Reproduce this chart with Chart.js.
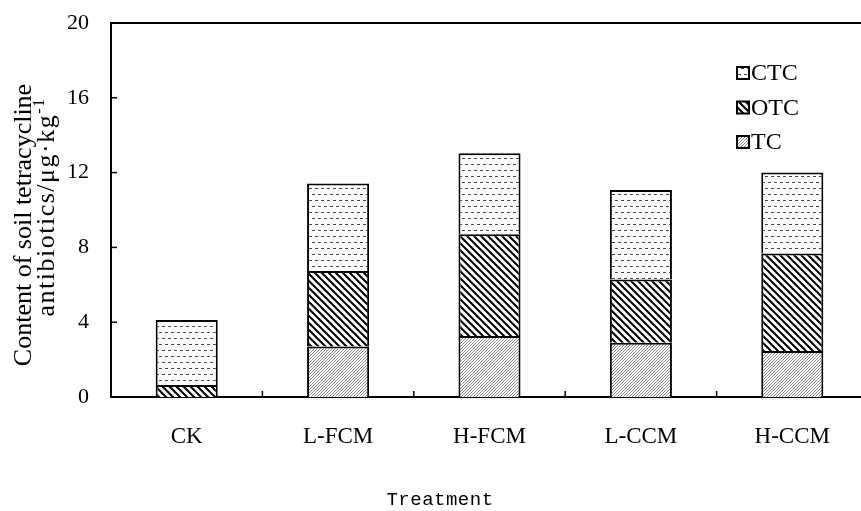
<!DOCTYPE html>
<html>
<head>
<meta charset="utf-8">
<script src="https://cdn.jsdelivr.net/npm/chart.js@4"></script>
<style>
  html, body { margin: 0; padding: 0; background: #fff; overflow: hidden; }
  #wrap { width: 875px; height: 511px; }
</style>
</head>
<body>
<div id="wrap"><canvas id="chart" width="875" height="511"></canvas></div>
<script>
"use strict";

// 처리구 / 항생제별 함량 (누적 막대의 각 구간 값)
const categories = ["CK", "L-FCM", "H-FCM", "L-CCM", "H-CCM"];
const tcValues = [0, 2.7, 3.26, 2.9, 2.46];
const otcValues = [0.64, 4.04, 5.44, 3.39, 5.22];
const ctcValues = [3.48, 4.68, 4.33, 4.78, 4.32];
const seriesNames = ["TC", "OTC", "CTC"];
const yTicks = [0, 4, 8, 12, 16, 20];
const yTitleLines = ["Content of soil tetracycline", "antibiotics/μg·kg", "-1"];
const xTitle = "Treatment";

const SERIF = "'Liberation Serif', 'Times New Roman', serif";

// ---- fill patterns ----
function makePattern(w, h, draw) {
  const c = document.createElement("canvas");
  c.width = w;
  c.height = h;
  const g = c.getContext("2d");
  g.fillStyle = "#fff";
  g.fillRect(0, 0, w, h);
  draw(g);
  return c.getContext("2d").createPattern(c, "repeat");
}

// CTC: 점선 가로줄 (엇갈림)
const ctcPattern = makePattern(6, 12, (g) => {
  g.fillStyle = "#4a4a4a";
  g.fillRect(0, 2, 3, 1);
  g.fillRect(3, 8, 3, 1);
});
// OTC: 굵은 역사선
const otcPattern = makePattern(7, 7, (g) => {
  g.strokeStyle = "#000";
  g.lineWidth = 2;
  g.beginPath();
  g.moveTo(-1, -1); g.lineTo(8, 8);
  g.moveTo(-8, -1); g.lineTo(1, 8);
  g.moveTo(6, -1); g.lineTo(15, 8);
  g.stroke();
});
// TC: 가는 회색 사선
const tcPattern = makePattern(3, 3, (g) => {
  g.strokeStyle = "#8a8a8a";
  g.lineWidth = 1;
  g.beginPath();
  g.moveTo(-1, 4); g.lineTo(4, -1);
  g.stroke();
});

const patterns = [tcPattern, otcPattern, ctcPattern];

function line(ctx, x1, y1, x2, y2) {
  ctx.beginPath();
  ctx.moveTo(x1, y1);
  ctx.lineTo(x2, y2);
  ctx.stroke();
}

// 위쪽 테두리, 안쪽 눈금, 범례, 축 제목
const framePlugin = {
  id: "frame",
  afterDraw(chart) {
    const { ctx, chartArea: a } = chart;
    const x = chart.scales.x;
    const y = chart.scales.y;
    ctx.save();
    ctx.strokeStyle = "#000";
    ctx.lineWidth = 2;
    line(ctx, a.left - 1, a.top, a.right, a.top);

    ctx.lineWidth = 1.5;
    yTicks.forEach((v) => {
      const py = y.getPixelForValue(v);
      line(ctx, a.left, py, a.left + 6, py);
    });
    for (let i = 1; i < categories.length; i++) {
      const px = (x.getPixelForValue(i - 1) + x.getPixelForValue(i)) / 2;
      line(ctx, px, a.bottom, px, a.bottom - 6);
    }

    // legend (역순)
    ctx.font = `24px ${SERIF}`;
    ctx.textBaseline = "middle";
    const ds = chart.data.datasets.slice().reverse();
    ds.forEach((d, i) => {
      const cy = 73 + i * 34.5;
      ctx.fillStyle = d.backgroundColor;
      ctx.fillRect(737, cy - 6, 12, 12);
      ctx.lineWidth = 2;
      ctx.strokeRect(737, cy - 6, 12, 12);
      ctx.fillStyle = "#000";
      ctx.textAlign = "left";
      ctx.fillText(d.label, 751, cy + 1);
    });

    // y title (2줄, 위첨자)
    ctx.save();
    ctx.rotate(-Math.PI / 2);
    ctx.fillStyle = "#000";
    ctx.textAlign = "center";
    ctx.textBaseline = "alphabetic";
    ctx.font = `26px ${SERIF}`;
    ctx.fillText(yTitleLines[0], -225, 31);
    ctx.letterSpacing = "1.5px";
    const mainW = ctx.measureText(yTitleLines[1]).width;
    ctx.font = `16px ${SERIF}`;
    const supW = ctx.measureText(yTitleLines[2]).width;
    const startX = -207 - (mainW + supW) / 2;
    ctx.textAlign = "left";
    ctx.font = `26px ${SERIF}`;
    ctx.fillText(yTitleLines[1], startX, 54);
    ctx.font = `16px ${SERIF}`;
    ctx.fillText(yTitleLines[2], startX + mainW, 44);
    ctx.restore();

    // x title
    ctx.font = "19px 'Liberation Mono', 'DejaVu Sans Mono', monospace";
    ctx.letterSpacing = "0.5px";
    ctx.textAlign = "center";
    ctx.textBaseline = "middle";
    ctx.fillStyle = "#000";
    ctx.fillText(xTitle, 440, 500);
    ctx.restore();
  },
};

const datasets = seriesNames.map((name, i) => ({
  label: name,
  data: [tcValues, otcValues, ctcValues][i],
  backgroundColor: patterns[i],
  borderColor: "#000",
  borderWidth: 2,
  borderSkipped: "start",
  categoryPercentage: 1,
  barPercentage: 0.41,
}));

new Chart(document.getElementById("chart").getContext("2d"), {
  type: "bar",
  data: { labels: categories, datasets },
  options: {
    responsive: false,
    animation: false,
    devicePixelRatio: 1,
    layout: { autoPadding: false, padding: { left: 0, top: 23, right: 7, bottom: 0 } },
    plugins: { legend: { display: false }, tooltip: { enabled: false } },
    scales: {
      x: {
        stacked: true,
        grid: { display: false },
        border: { display: true, color: "#000", width: 2 },
        ticks: { color: "#000", font: { family: SERIF, size: 23 }, padding: 18 },
        afterFit: (s) => { s.height = 114; },
      },
      y: {
        stacked: true,
        min: 0,
        max: 20,
        afterBuildTicks: (s) => { s.ticks = yTicks.map((v) => ({ value: v })); },
        grid: { display: false, drawTicks: false },
        border: { display: true, color: "#000", width: 2 },
        ticks: { color: "#000", font: { family: SERIF, size: 22 }, padding: 22 },
        // 눈금 라벨 간격(padding)이 위/아래 여백에 더해지지 않게
        afterFit: (s) => {
          s.width = 111;
          s.paddingTop = 12;
          s.paddingBottom = 12;
        },
      },
    },
  },
  plugins: [framePlugin],
});
</script>
</body>
</html>
